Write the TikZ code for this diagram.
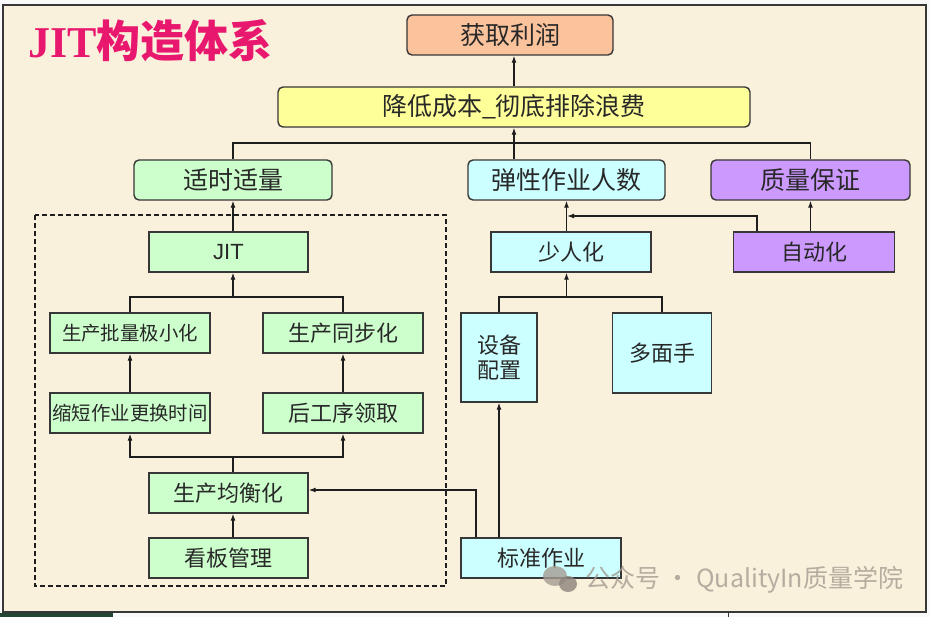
\documentclass[tikz,border=0pt]{standalone}
\usepackage{fontspec}
\setmainfont{Liberation Sans}
\newfontfamily\cjk{Noto Sans CJK SC}
\newfontfamily\serifb{Liberation Serif}
\newfontfamily\arialf{Liberation Sans}
\usetikzlibrary{arrows.meta}
\definecolor{bgc}{RGB}{250,241,220}
\definecolor{orangec}{RGB}{250,195,155}
\definecolor{yellowc}{RGB}{255,255,153}
\definecolor{greenc}{RGB}{204,255,204}
\definecolor{cyanc}{RGB}{204,255,255}
\definecolor{purplec}{RGB}{204,153,255}
\definecolor{titlec}{RGB}{232,24,110}
\definecolor{bordc}{RGB}{55,55,55}
\definecolor{linec}{RGB}{30,30,30}
\definecolor{txtc}{RGB}{40,40,40}
\definecolor{wmc}{RGB}{165,155,145}
\definecolor{stripc}{RGB}{35,70,50}
\begin{document}
\begin{tikzpicture}[x=1pt,y=-1pt,
  box/.style={draw=bordc, line width=1.4pt, inner sep=0pt, text=txtc, align=center,
              font=\cjk\fontsize{22}{25}\selectfont},
  rbox/.style={box, rounded corners=5pt, font=\cjk\fontsize{25}{28}\selectfont},
  small/.style={font=\cjk\fontsize{19.4}{22}\selectfont},
  arr/.style={draw=linec, line width=1.1pt, -{Latex[length=7pt,width=5pt]}},
  ln/.style={draw=linec, line width=1.1pt}]
\useasboundingbox (0,0) rectangle (930,617);
\fill[white!95!gray] (0,0) rectangle (930,617);
\fill[bgc] (3,5) rectangle (926,612);
\draw[line width=1.5pt, bordc] (3,5) rectangle (926,612);
\fill[stripc] (0,613) rectangle (113,617);
\draw[line width=1pt, bordc] (728,612) -- (728,617);

% title
\node[anchor=west, text=titlec, inner sep=0pt] (title) at (28,41)
  {\serifb\fontsize{44}{48}\selectfont\bfseries JIT\cjk\fontsize{44}{48}\selectfont\bfseries 构造体系};

% nodes
\node[rbox, fill=orangec, minimum width=206, minimum height=40] (profit) at (510,35) {获取利润};
\node[rbox, fill=yellowc, minimum width=472, minimum height=40] (ycb) at (514,107) {降低成本\_彻底排除浪费};
\node[rbox, fill=greenc, minimum width=198, minimum height=40] (sszl) at (233,180) {适时适量};
\node[rbox, fill=cyanc, minimum width=197, minimum height=40] (txzy) at (566.5,180) {弹性作业人数};
\node[rbox, fill=purplec, minimum width=199, minimum height=40] (zlbz) at (810.5,180) {质量保证};

\node[box, fill=greenc, minimum width=159, minimum height=40, font=\arialf\fontsize{22}{24}\selectfont] (jit) at (228.5,252) {JIT};
\node[box, small, fill=greenc, minimum width=160, minimum height=40] (pl) at (130,333) {生产批量极小化};
\node[box, fill=greenc, minimum width=160, minimum height=40] (tb) at (343,333) {生产同步化};
\node[box, small, fill=greenc, minimum width=160, minimum height=40] (sd) at (130,413) {缩短作业更换时间};
\node[box, fill=greenc, minimum width=160, minimum height=40] (hg) at (343,413) {后工序领取};
\node[box, fill=greenc, minimum width=159, minimum height=40] (jh) at (228.5,493) {生产均衡化};
\node[box, fill=greenc, minimum width=159, minimum height=40] (kb) at (228.5,558) {看板管理};

\node[box, fill=cyanc, minimum width=160, minimum height=40] (srh) at (571,252) {少人化};
\node[box, fill=purplec, minimum width=161, minimum height=40] (zdh) at (814,252) {自动化};
\node[box, fill=cyanc, minimum width=76, minimum height=89] (sb) at (499,357.5) {设备\\配置};
\node[box, fill=cyanc, minimum width=99, minimum height=80] (dm) at (662,353) {多面手};
\node[box, fill=cyanc, minimum width=160, minimum height=40] (bz) at (541,558) {标准作业};

% dashed group frame
\draw[line width=1.1pt, linec, dash pattern=on 5pt off 3pt] (35,215) rectangle (446,586);

% connectors (top)
\draw[arr] (ycb.north) -- (ycb.north |- profit.south);
\draw[ln] (sszl.north) -- (sszl.north |- 0,143) -| (zlbz.north);
\draw[arr] (ycb.south |- txzy.north) -- (ycb.south);

% left column
\draw[arr] (sszl.south |- jit.north) -- (sszl.south);
\coordinate (b2) at (sszl.south |- 0,297);
\draw[ln] (pl.north) |- (b2) -| (tb.north);
\draw[arr] (b2) -- (b2 |- jit.south);
\draw[arr] (sd.north) -- (pl.south);
\draw[arr] (hg.north) -- (tb.south);
\coordinate (b3) at (sszl.south |- 0,457);
\draw[ln] (b3) -- (b3 |- jh.north);
\draw[arr] (b3) -| (sd.south);
\draw[arr] (b3) -| (hg.south);
\draw[arr] (b3 |- kb.north) -- (b3 |- jh.south);
\coordinate (jhin) at (jh.east |- 0,490);
\draw[arr] ([xshift=-65pt]bz.north) |- (jhin);

% right side
\draw[arr] (sb.south |- bz.north) -- (sb.south);
\coordinate (b4) at (txzy.south |- 0,297);
\draw[ln] (sb.north) |- (b4) -| (dm.north);
\draw[arr] (b4) -- (b4 |- srh.south);
\draw[arr] (b4 |- srh.north) -- (txzy.south);
\coordinate (j1) at ([xshift=0.6pt]txzy.south |- 0,216);
\draw[arr] ([xshift=-57pt]zdh.north) |- (j1);
\draw[arr] (zdh.north -| zlbz.south) -- (zlbz.south);

% watermark
\begin{scope}[opacity=0.8]
\fill[wmc] (555,576) ellipse (12 and 10);
\fill[wmc!85!black] (568,584) ellipse (9 and 8);
\node[anchor=west, text=wmc, inner sep=0pt, font=\cjk\fontsize{25}{28}\selectfont] (wm) at (585,580) {公众号 · QualityIn质量学院};
\end{scope}
\end{tikzpicture}
\end{document}
